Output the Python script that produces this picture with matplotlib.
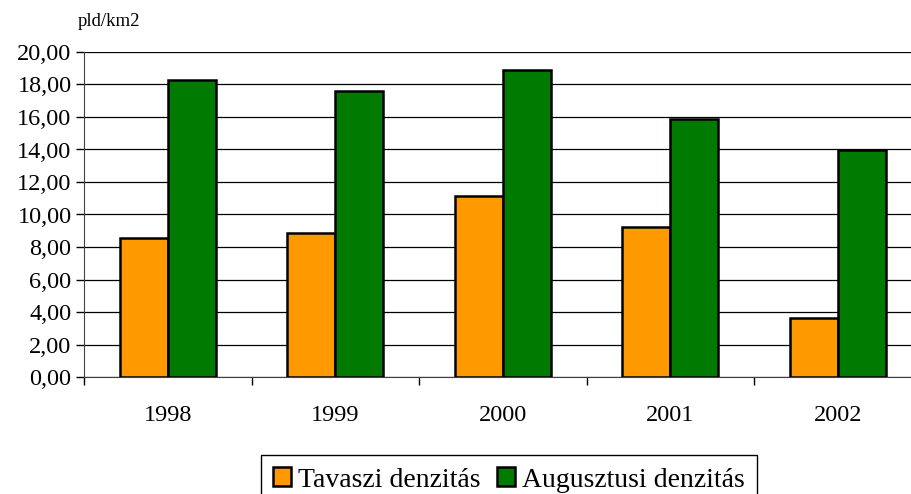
import matplotlib
matplotlib.use("Agg")
import matplotlib.pyplot as plt
import numpy as np
from matplotlib.ticker import FixedLocator, FuncFormatter

years = ["1998", "1999", "2000", "2001", "2002"]
tavaszi = [8.57, 8.88, 11.14, 9.25, 3.61]
augusztusi = [18.28, 17.62, 18.89, 15.86, 13.97]
series_names = ["Tavaszi denzitás", "Augusztusi denzitás"]
colors = ["#FF9900", "#007A00"]

plt.rcParams['font.family'] = ['Liberation Serif', 'DejaVu Serif']

fig = plt.figure(figsize=(9.12, 4.94), dpi=100)
ax = fig.add_axes([84/912, 1-377/494, (921.5-84)/912, (377-52)/494])

x = np.arange(len(years))
w = 0.287
b1 = ax.bar(x - w/2, tavaszi, w, color=colors[0], edgecolor='black', linewidth=1.8, label=series_names[0], zorder=3)
b2 = ax.bar(x + w/2, augusztusi, w, color=colors[1], edgecolor='black', linewidth=1.8, label=series_names[1], zorder=3)

ax.set_xlim(-0.5, len(years) - 0.5)
ax.set_ylim(0, 20)
ax.set_yticks(np.arange(0, 20.01, 2))
ax.yaxis.set_major_formatter(FuncFormatter(lambda v, p: f"{v:.2f}".replace('.', ',')))
ax.set_xticks(x)
ax.set_xticklabels(years)
ax.xaxis.set_minor_locator(FixedLocator(np.arange(-0.5, len(years), 1.0)))
ax.tick_params(axis='x', which='major', length=0, pad=20, labelsize=17.5)
ax.tick_params(axis='x', which='minor', length=6, width=1, color='black')
ax.tick_params(axis='y', length=6, width=1, labelsize=17.5, pad=3)

ax.grid(axis='y', color='black', linewidth=0.9, zorder=0)
ax.spines['top'].set_visible(False)
ax.spines['right'].set_visible(False)
ax.spines['left'].set_color('#404040')
ax.spines['bottom'].set_color('#404040')

fig.text(78/912, 1-22/494, "pld/km2", fontsize=13.5, ha='left', va='center')

leg = fig.legend(handles=[b1, b2], labels=series_names, loc='upper center',
                 bbox_to_anchor=(509/912, 1-455/494), ncol=2, fontsize=20,
                 frameon=True, fancybox=False, edgecolor='black', framealpha=1,
                 handlelength=0.65, handleheight=0.65, handletextpad=0.25,
                 columnspacing=0.6, borderpad=0.45, borderaxespad=0)
leg.get_frame().set_linewidth(1.0)

fig.savefig("out.png", dpi=100)
